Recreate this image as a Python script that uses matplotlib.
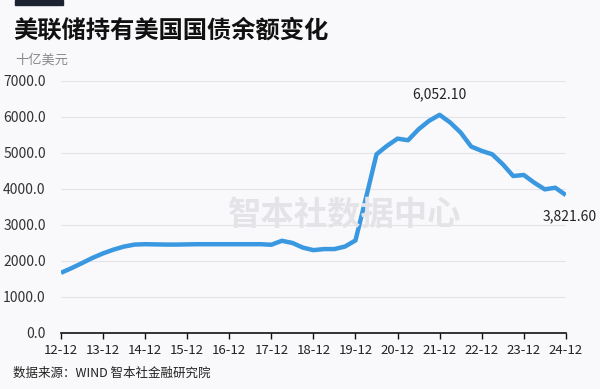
import numpy as np
import matplotlib
matplotlib.use("Agg")
import matplotlib.pyplot as plt
from matplotlib.patches import Rectangle

plt.rcParams['font.family'] = ['Noto Sans CJK SC', 'DejaVu Sans']

# quarterly Fed treasury holdings, billions USD (2012-12 .. 2024-12)
holdings = [
    1660, 1790, 1930, 2075, 2200, 2305, 2390, 2445, 2455,
    2450, 2445, 2445, 2450, 2455, 2455, 2455, 2455,
    2455, 2455, 2455, 2440, 2550, 2490, 2360, 2290,
    2320, 2320, 2390, 2560, 3745, 4955, 5190, 5390,
    5345, 5650, 5885, 6052.1, 5840, 5560, 5170, 5050,
    4955, 4680, 4350, 4380, 4165, 3980, 4025, 3821.6,
]
year_labels = ['12-12', '13-12', '14-12', '15-12', '16-12', '17-12', '18-12',
               '19-12', '20-12', '21-12', '22-12', '23-12', '24-12']
y_ticks = [0, 1000, 2000, 3000, 4000, 5000, 6000, 7000]

bg = '#f9f9fb'
line_color = '#3a98e0'

x = np.arange(len(holdings)) / 4.0

fig = plt.figure(figsize=(6, 3.89), dpi=100, facecolor=bg)
ax = fig.add_axes([0.1017, 0.1452, 0.8413, 0.6473], facecolor=bg)

ax.plot(x, holdings, color=line_color, lw=3.2, solid_capstyle='butt', zorder=3)

ax.set_xlim(0, 12)
ax.set_ylim(0, 7000)
ax.set_yticks(y_ticks)
ax.set_yticklabels([f'{v:.1f}' for v in y_ticks], fontsize=10, color='#333333')
ax.set_xticks(np.arange(len(year_labels)))
ax.set_xticklabels(year_labels, fontsize=9.5, color='#222222')
ax.tick_params(axis='y', length=0, pad=11)
ax.tick_params(axis='x', length=4, width=1, color='#111111', pad=4, direction='out')
ax.grid(axis='y', color='#e4e4e8', lw=0.8, zorder=0)
for s in ['top', 'right', 'left']:
    ax.spines[s].set_visible(False)
ax.spines['bottom'].set_color('#111111')
ax.spines['bottom'].set_linewidth(1.2)

# labels for peak and last value
peak = int(np.argmax(holdings))
ax.annotate(f'{holdings[peak]:,.2f}', (x[peak], holdings[peak]), xytext=(0, 10),
            textcoords='offset points', ha='center', va='bottom', fontsize=10, color='#222222')
ax.annotate(f'{holdings[-1]:,.2f}', (x[-1], holdings[-1]), xytext=(3, -10),
            textcoords='offset points', ha='center', va='top', fontsize=10, color='#222222',
            annotation_clip=False)

# watermark
fig.text(0.575, 0.447, '智本社数据中心', fontsize=24, fontweight='bold', color='#e4e4e8',
         ha='center', va='center', zorder=1)

# header
fig.add_artist(Rectangle((15 / 600, 1 - 4.5 / 389), 48 / 600, 4.5 / 389,
                         transform=fig.transFigure, color='#1b2333'))
fig.text(0.022, 0.922, '美联储持有美国国债余额变化', fontsize=17.5, fontweight='bold',
         color='#111111', ha='left', va='center')
fig.text(0.025, 0.845, '十亿美元', fontsize=9.5, color='#8a8a8a', ha='left', va='center')

fig.text(0.022, 0.041, '数据来源：WIND 智本社金融研究院', fontsize=9, color='#222222',
         ha='left', va='center')

fig.savefig('out.png', dpi=100, facecolor=bg)
